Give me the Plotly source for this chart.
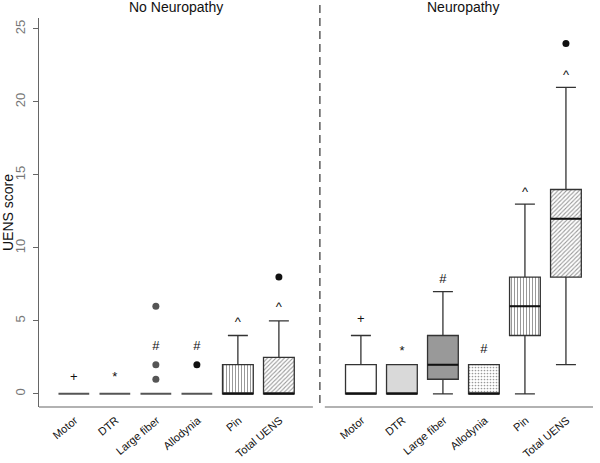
import plotly.graph_objects as go

# ---------------- data ----------------
categories = ["Motor", "DTR", "Large fiber", "Allodynia", "Pin", "Total UENS"]
group_titles = ["No Neuropathy", "Neuropathy"]

# No neuropathy
no_q1 = [0, 0, 0, 0, 0, 0]
no_med = [0, 0, 0, 0, 0, 0]
no_q3 = [0, 0, 0, 0, 2, 2.5]
no_lo = [0, 0, 0, 0, 0, 0]
no_hi = [0, 0, 0, 0, 4, 5]
no_out = [[], [], [1, 2, 6], [2], [], [8]]
no_sym = ["+", "*", "#", "#", "^", "^"]
no_sym_y = [1.1, 1.1, 3.2, 3.2, 4.9, 5.9]

# Neuropathy
ne_q1 = [0, 0, 1, 0, 4, 8]
ne_med = [0, 0, 2, 0, 6, 12]
ne_q3 = [2, 2, 4, 2, 8, 14]
ne_lo = [0, 0, 0, 0, 0, 2]
ne_hi = [4, 2, 7, 2, 13, 21]
ne_out = [[], [], [], [], [], [24]]
ne_sym = ["+", "*", "#", "#", "^", "^"]
ne_sym_y = [5.1, 2.9, 7.8, 3.0, 13.8, 21.8]

y_ticks = [0, 5, 10, 15, 20, 25]

# ---------------- styles ----------------
no_fill = ["white", "white", "white", "white", "white", "white"]
no_pat = ["", "", "", "", "|", "/"]
ne_fill = ["white", "#d9d9d9", "#999999", "white", "white", "white"]
ne_pat = ["", "", "", ".", "|", "/"]
out_col_no = ["#222", "#222", "#555", "#111", "#222", "#111"]

n = len(categories)
pos_no = [i + 1 for i in range(n)]
pos_ne = [i + n + 2 for i in range(n)]
sep_x = n + 1
BW = 0.75

groups = [
    (pos_no, no_q1, no_med, no_q3, no_lo, no_hi, no_out, no_sym, no_sym_y, no_fill, no_pat),
    (pos_ne, ne_q1, ne_med, ne_q3, ne_lo, ne_hi, ne_out, ne_sym, ne_sym_y, ne_fill, ne_pat),
]

fig = go.Figure()

# patterned box bodies (bars underneath)
for pos, q1, med, q3, lo, hi, out, sym, symy, fill, pat in groups:
    for i in range(n):
        if pat[i]:
            fig.add_trace(go.Bar(
                x=[pos[i]], y=[q3[i] - q1[i]], base=[q1[i]], width=BW,
                marker=dict(color="white", line=dict(width=0),
                            pattern=dict(shape=pat[i], fgcolor="#333", bgcolor="white",
                                         size=3,
                                         solidity=0.35 if pat[i] != "." else 0.25)),
                showlegend=False, hoverinfo="skip"))

# box outlines
for pos, q1, med, q3, lo, hi, out, sym, symy, fill, pat in groups:
    for i in range(n):
        flat = q3[i] == q1[i]
        fig.add_trace(go.Box(
            x=[pos[i]], q1=[q1[i]], median=[med[i]], q3=[q3[i]],
            lowerfence=[lo[i]], upperfence=[hi[i]],
            width=BW, whiskerwidth=0.65,
            fillcolor="rgba(0,0,0,0)" if pat[i] else fill[i],
            line=dict(color="#555" if flat else "#333", width=1.3 if not flat else 2),
            boxpoints=False, showlegend=False, hoverinfo="skip"))
        if not flat:
            # bold median
            fig.add_trace(go.Box(
                x=[pos[i]], q1=[med[i]], median=[med[i]], q3=[med[i]],
                lowerfence=[med[i]], upperfence=[med[i]],
                width=BW, whiskerwidth=0,
                fillcolor="rgba(0,0,0,0)", line=dict(color="#111", width=2.0),
                boxpoints=False, showlegend=False, hoverinfo="skip"))

# outliers
for g, (pos, q1, med, q3, lo, hi, out, sym, symy, fill, pat) in enumerate(groups):
    for i in range(n):
        if out[i]:
            fig.add_trace(go.Scatter(
                x=[pos[i]] * len(out[i]), y=out[i], mode="markers",
                marker=dict(size=7, color=out_col_no[i] if g == 0 else "#111"),
                showlegend=False, hoverinfo="skip"))

# significance symbols
for pos, q1, med, q3, lo, hi, out, sym, symy, fill, pat in groups:
    fig.add_trace(go.Scatter(
        x=pos, y=symy, mode="text", text=sym, textposition="middle center",
        textfont=dict(size=13, color="#111", family="Liberation Sans, Arial"),
        showlegend=False, hoverinfo="skip"))

# group titles
for t, pos in zip(group_titles, [pos_no, pos_ne]):
    fig.add_annotation(x=(pos[0] + pos[-1]) / 2, xref="x", y=1.028, yref="paper",
                       text=t, showarrow=False, yanchor="middle",
                       font=dict(size=14, color="#111", family="Liberation Sans, Arial"))

# separator dashed line
fig.add_shape(type="line", xref="x", yref="paper", x0=sep_x, x1=sep_x, y0=0.01, y1=1.05,
              line=dict(color="#333", width=1.2, dash="8px,5px"))
# bottom axis line with a gap at separator
fig.add_shape(type="line", xref="x", yref="paper", x0=0.15, x1=sep_x - 0.17, y0=0, y1=0,
              line=dict(color="#666", width=1.2))
fig.add_shape(type="line", xref="x", yref="paper", x0=sep_x + 0.12, x1=13.66, y0=0, y1=0,
              line=dict(color="#666", width=1.2))

fig.update_layout(
    width=600, height=463,
    margin=dict(l=39, r=7, t=18, b=56),
    paper_bgcolor="white", plot_bgcolor="white",
    barmode="overlay", boxmode="overlay",
    font=dict(family="Liberation Sans, Arial", color="#111"),
    xaxis=dict(range=[0.15, 13.66], showgrid=False, zeroline=False, showline=False,
               automargin=False,
               tickmode="array", tickvals=pos_no + pos_ne, ticktext=categories + categories,
               tickangle=-40, ticks="", tickfont=dict(size=11, color="#111"),
               ticklabelstandoff=4, ticklabelshift=1),
    yaxis=dict(range=[-0.9, 25.75], showgrid=False, zeroline=False, showline=True,
               automargin=False,
               linecolor="#666", linewidth=1.2, ticks="outside", ticklen=5, tickcolor="#666",
               tickvals=y_ticks, tickangle=-90, tickfont=dict(size=13, color="#777"),
               ticklabelstandoff=3,
               title=dict(text="UENS score", font=dict(size=14, color="#111"), standoff=3)),
)

fig.write_html("out.html", config={"displayModeBar": False},
               post_script="document.body.style.margin='0';document.body.style.padding='0';")
